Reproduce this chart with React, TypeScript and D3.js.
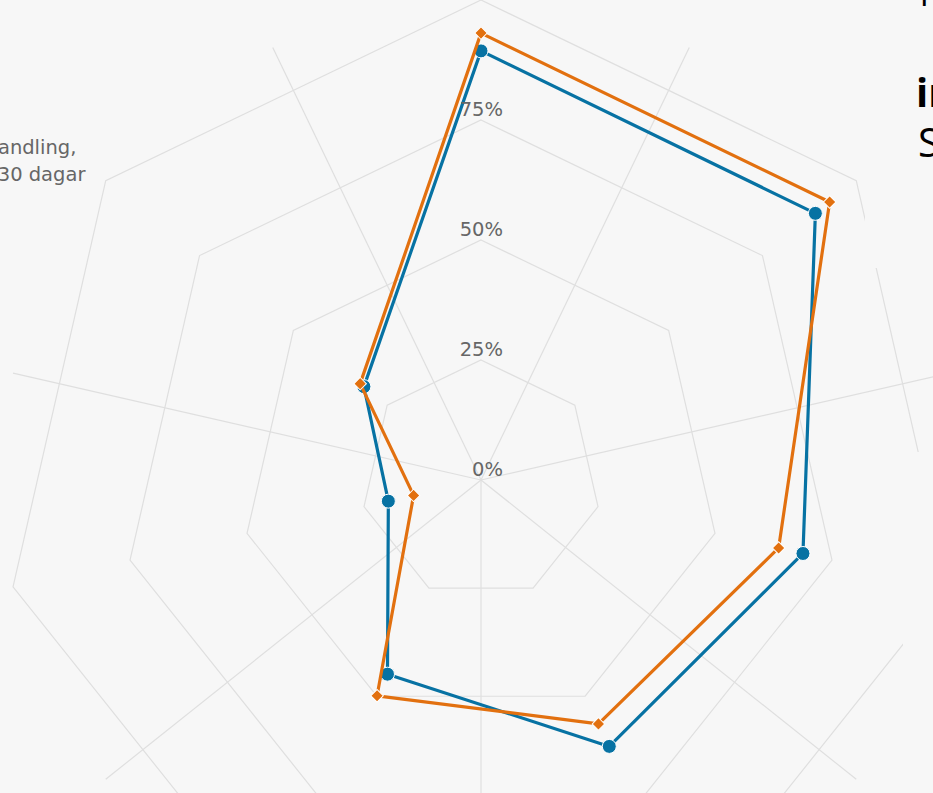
import React, { useEffect, useRef } from 'react';
import * as d3 from 'd3';

// seven categories, only one label falls inside the visible crop
const CATEGORY_LABELS: string[][] = [[], [], [], [], [], [], ['behandling,', '30 dagar']];
const TICKS = [0, 25, 50, 75, 100];
const SERIES_BLUE = [89.4, 89.1, 68.8, 61.6, 44.9, 19.8, 31.2];
const SERIES_ORANGE = [93.1, 92.9, 63.6, 56.4, 49.9, 14.4, 32.2];

const W = 933;
const H = 793;
const BG = '#f7f7f7';
const GRID = '#dfdfdf';
const BLUE = '#0772a3';
const ORANGE = '#e2700f';
const FONT = 'DejaVu Sans, Verdana, sans-serif';

export default function App() {
  const ref = useRef<SVGSVGElement>(null);

  useEffect(() => {
    const svgEl = ref.current;
    if (!svgEl) return;
    const svg = d3.select(svgEl);
    svg.selectAll('*').remove();

    const cx = 481;
    const cy = 480;
    const n = CATEGORY_LABELS.length;
    const r = d3.scaleLinear().domain([0, 100]).range([0, 480]);
    const angle = d3.scaleLinear().domain([0, n]).range([0, 2 * Math.PI]);
    const polar = (a: number, rad: number): [number, number] => [cx + rad * Math.sin(a), cy - rad * Math.cos(a)];

    svg.append('rect').attr('width', W).attr('height', H).attr('fill', BG);
    const g = svg.append('g').attr('transform', `translate(${cx},${cy})`);

    // polygon rings
    const ring = d3
      .lineRadial<number>()
      .angle((_, i) => angle(i))
      .curve(d3.curveLinearClosed);
    TICKS.filter((t) => t > 0).forEach((t) => {
      g.append('path')
        .attr('d', ring.radius(r(t))(d3.range(n)))
        .attr('fill', 'none')
        .attr('stroke', GRID)
        .attr('stroke-width', 1.2);
    });

    // spokes sit between categories
    d3.range(n).forEach((i) => {
      const [x, y] = polar(angle(i + 0.5), r(100));
      g.append('line')
        .attr('x1', 0)
        .attr('y1', 0)
        .attr('x2', x - cx)
        .attr('y2', y - cy)
        .attr('stroke', GRID)
        .attr('stroke-width', 1.2);
    });

    // y labels (100% sits above the crop)
    TICKS.filter((t) => t < 100).forEach((t) => {
      svg
        .append('text')
        .attr('x', 503)
        .attr('y', cy - r(t) - 4.5)
        .attr('text-anchor', 'end')
        .attr('fill', '#666666')
        .attr('font-family', FONT)
        .attr('font-size', 19.5)
        .text(`${t}%`);
    });

    // category labels
    CATEGORY_LABELS.forEach((lines, i) => {
      if (!lines.length) return;
      const [lx, ly] = polar(angle(i), r(100) + 26);
      lines.forEach((line, k) => {
        svg
          .append('text')
          .attr('x', k === 0 ? lx - 9 : lx)
          .attr('y', k === 0 ? ly - 11 : ly + 16)
          .attr('text-anchor', 'end')
          .attr('fill', '#666666')
          .attr('font-family', FONT)
          .attr('font-size', 19.5)
          .text(line);
      });
    });

    const line = d3
      .lineRadial<number>()
      .angle((_, i) => angle(i))
      .radius((d) => r(d))
      .curve(d3.curveLinearClosed);

    const drawSeries = (vals: number[], color: string, shape: 'circle' | 'diamond') => {
      g.append('path')
        .attr('d', line(vals))
        .attr('fill', 'none')
        .attr('stroke', color)
        .attr('stroke-width', 3.2)
        .attr('stroke-linejoin', 'round');
      vals.forEach((v, i) => {
        const [x, y] = polar(angle(i), r(v));
        if (shape === 'circle') {
          g.append('circle')
            .attr('cx', x - cx)
            .attr('cy', y - cy)
            .attr('r', 7)
            .attr('fill', color)
            .attr('stroke', '#ffffff')
            .attr('stroke-width', 1);
        } else {
          g.append('path')
            .attr('d', d3.symbol(d3.symbolSquare, 78)())
            .attr('transform', `translate(${x - cx},${y - cy}) rotate(45)`)
            .attr('fill', color)
            .attr('stroke', '#ffffff')
            .attr('stroke-width', 1);
        }
      });
    };
    drawSeries(SERIES_BLUE, BLUE, 'circle');
    drawSeries(SERIES_ORANGE, ORANGE, 'diamond');

    // side panel covering the right edge
    svg.append('rect').attr('x', 865).attr('y', 0).attr('width', 80).attr('height', 268).attr('fill', BG);
    svg.append('rect').attr('x', 903).attr('y', 452).attr('width', 40).attr('height', 400).attr('fill', BG);

    svg.append('text').attr('x', 920).attr('y', 6).attr('fill', '#000').attr('font-family', 'Open Sans, sans-serif').attr('font-size', 34).text('r');
    svg
      .append('text')
      .attr('x', 916)
      .attr('y', 107)
      .attr('fill', '#000')
      .attr('font-family', 'Open Sans, sans-serif')
      .attr('font-weight', 700)
      .attr('font-size', 40)
      .text('in');
    svg
      .append('text')
      .attr('x', 918)
      .attr('y', 157)
      .attr('fill', '#000')
      .attr('font-family', 'Open Sans, sans-serif')
      .attr('font-size', 40)
      .text('S');
  }, []);

  return (
    <svg
      ref={ref}
      width={W}
      height={H}
      style={{ position: 'fixed', left: 0, top: 0, display: 'block' }}
    />
  );
}
